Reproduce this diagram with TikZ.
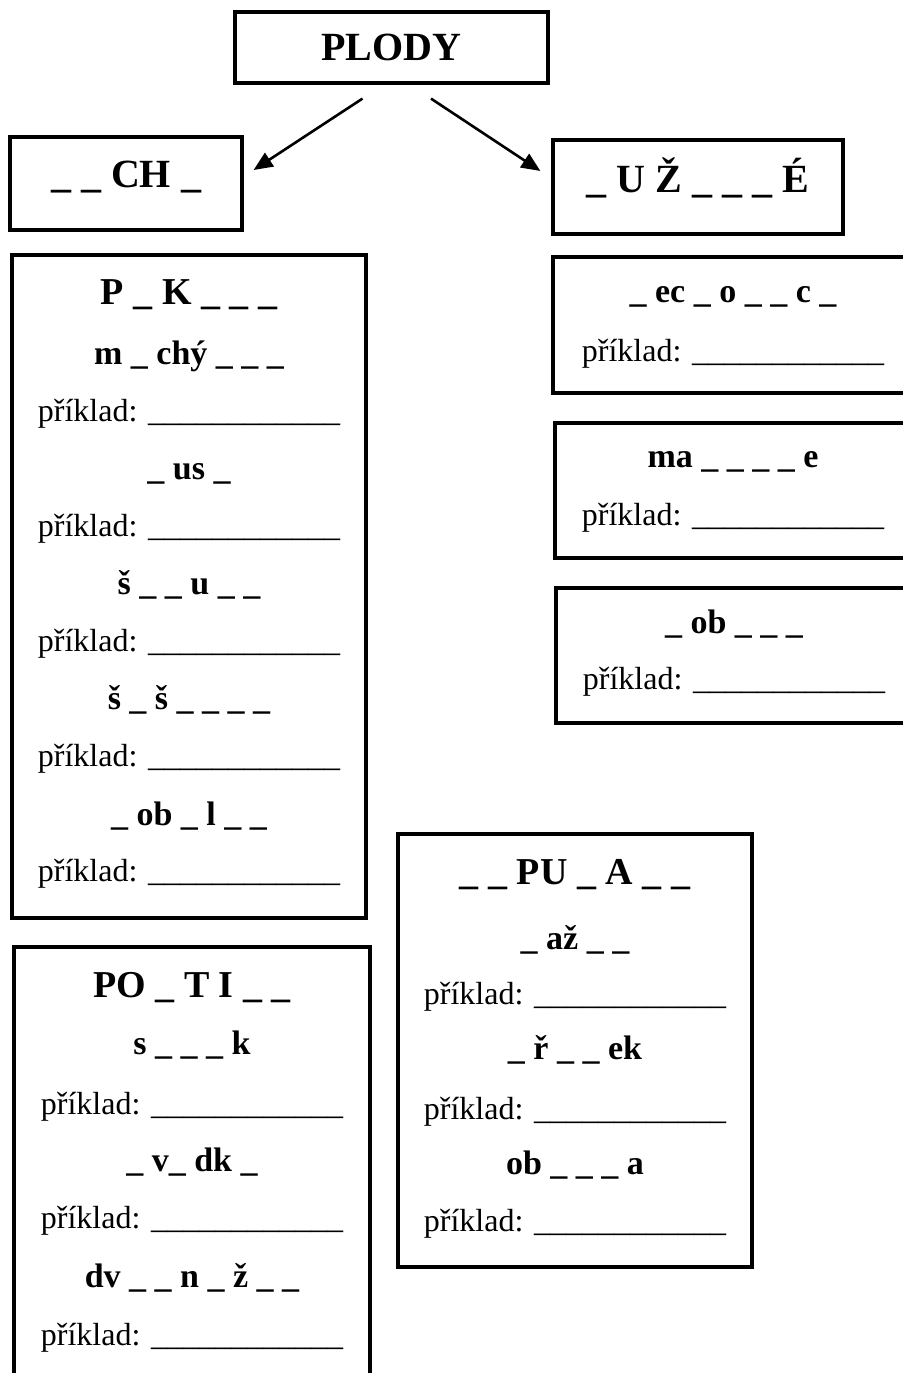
\documentclass[tikz,border=0pt]{standalone}
\usepackage{fontspec}
\setmainfont{Liberation Serif}
\usetikzlibrary{arrows.meta,calc}
\newcommand\prk{příklad: \_\_\_\_\_\_\_\_\_\_\_\_}
\tikzset{
  box/.style={draw, line width=3.2pt, inner sep=0pt},
  top/.style={font=\fontsize{40}{48}\selectfont\bfseries},
  head/.style={font=\fontsize{38}{46}\selectfont\bfseries, anchor=base, inner sep=0pt},
  word/.style={font=\fontsize{34}{40}\selectfont\bfseries, anchor=base, inner sep=0pt},
  ex/.style={font=\fontsize{32}{38}\selectfont, anchor=base, inner sep=0pt},
  arr/.style={-{Triangle[length=19pt,width=16pt]}, line width=2.6pt},
}
\begin{document}
\begin{tikzpicture}[x=1pt,y=1pt]
  \useasboundingbox (0,0) rectangle (902,-1373);
  % top
  \node[box, top, minimum width=313pt, minimum height=71pt] (plody) at (391.5,-47.5) {PLODY};
  \node[box, top, minimum width=232pt, minimum height=93pt, text height=27pt, text depth=20pt] (suche) at (126,-183.5) {\_ \_ CH \_};
  \node[box, top, minimum width=290pt, minimum height=94pt, text height=27pt, text depth=17pt] (duzne) at (698,-187) {\_ U Ž \_ \_ \_ É};
  \draw[arr] ($(plody.south)+(-29,-14)$) -- ($(suche.east)+(10,13.5)$);
  \draw[arr] ($(plody.south)+(39.5,-14)$) -- ($(duzne.west)+(-11,16)$);
  % boxes
  \node[box, minimum width=354pt, minimum height=663pt] (pukl) at (189,-586.5) {};
  \node[box, minimum width=362pt, minimum height=136pt] (r1) at (734,-325) {};
  \node[box, minimum width=360pt, minimum height=135pt] (r2) at (735,-490.5) {};
  \node[box, minimum width=359pt, minimum height=135pt] (r3) at (735.5,-655.5) {};
  \node[box, minimum width=354pt, minimum height=433pt] (nepukl) at (575,-1050.5) {};
  \node[box, minimum width=356pt, minimum height=460pt] (poltri) at (192,-1177) {};
  % left column
  \node[head] (a0) at (189,-304) {P \_ K \_ \_ \_};
  \node[word] (a1) at (189,-364) {m \_ chý \_ \_ \_};
  \node[ex] (a2) at (189,-421) {\prk};
  \node[word] (a3) at (189,-479) {\_ us \_};
  \node[ex] (a4) at (189,-536) {\prk};
  \node[word] (a5) at (189,-594) {š \_ \_ u \_ \_};
  \node[ex] (a6) at (189,-651) {\prk};
  \node[word] (a7) at (189,-709) {š \_ š \_ \_ \_ \_};
  \node[ex] (a8) at (189,-766) {\prk};
  \node[word] (a9) at (189,-825) {\_ ob \_ l \_ \_};
  \node[ex] (a10) at (189,-881) {\prk};
  % right column
  \node[word] (b0) at (733,-302) {\_ ec \_ o \_ \_ c \_};
  \node[ex] (b1) at (733,-361) {\prk};
  \node[word] (b2) at (733,-467) {ma \_ \_ \_ \_ e};
  \node[ex] (b3) at (733,-525) {\prk};
  \node[word] (b4) at (734,-633) {\_ ob \_ \_ \_};
  \node[ex] (b5) at (734,-689) {\prk};
  % middle
  \node[head] (c0) at (575,-884) {\_ \_ PU \_ A \_ \_};
  \node[word] (c1) at (575,-949) {\_ až \_ \_};
  \node[ex] (c2) at (575,-1004) {\prk};
  \node[word] (c3) at (575,-1059) {\_ ř \_ \_ ek};
  \node[ex] (c4) at (575,-1119) {\prk};
  \node[word] (c5) at (575,-1174) {ob \_ \_ \_ a};
  \node[ex] (c6) at (575,-1231) {\prk};
  % bottom left
  \node[head] (d0) at (192,-997) {PO \_ T I \_ \_};
  \node[word] (d1) at (192,-1054) {s \_ \_ \_ k};
  \node[ex] (d2) at (192,-1114) {\prk};
  \node[word] (d3) at (192,-1171) {\_ v\_ dk \_};
  \node[ex] (d4) at (192,-1228) {\prk};
  \node[word] (d5) at (192,-1287) {dv \_ \_ n \_ ž \_ \_};
  \node[ex] (d6) at (192,-1345) {\prk};
\end{tikzpicture}
\end{document}
